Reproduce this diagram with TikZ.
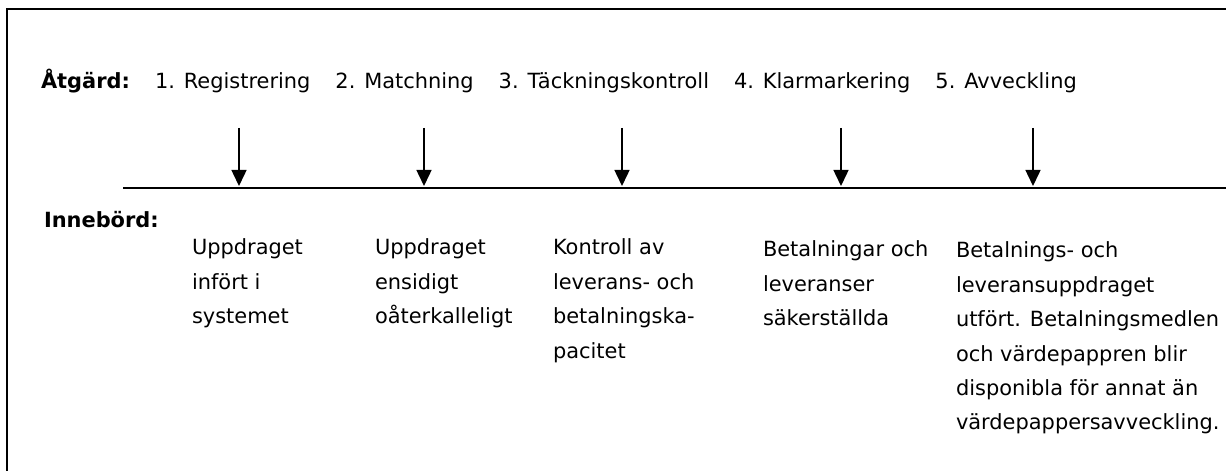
\documentclass[tikz,border=0pt]{standalone}
\usepackage{fontspec}
\setmainfont{DejaVu Sans}
\usetikzlibrary{positioning,arrows.meta}
\tikzset{%
  >={Triangle[length=16bp,width=15bp]}, % filled arrow heads
  inner sep=0pt,%
  outer sep=0pt,%
  step label/.style={anchor=base west,font=\fontsize{21}{34.5}\selectfont},%
  head label/.style={anchor=base west,font=\fontsize{21}{34.5}\selectfont\bfseries},%
  meaning/.style={anchor=north west,align=left,font=\fontsize{21}{34.5}\selectfont},%
  step arrow/.style={->,line width=1.5bp}%
}

\begin{document}
\begin{tikzpicture}[x=1bp,y=-1bp] % settlement steps
\useasboundingbox (0,0) rectangle (1226,471);
\draw[line width=1.5bp] (7,471) -- (7,9) -- (1226,9); % frame

% the steps
\node[head label] (atg) at (41,89) {Åtgärd:};
\node[step label] (s1) at (155,89) {1. Registrering};
\node[step label,base right=25bp of s1] (s2) {2. Matchning};
\node[step label,base right=25bp of s2] (s3) {3. Täckningskontroll};
\node[step label,base right=25bp of s3] (s4) {4. Klarmarkering};
\node[step label,base right=25bp of s4] (s5) {5. Avveckling};

% time line
\coordinate (tl0) at (123,188);
\coordinate (tl1) at (1226,188);
\draw[line width=2bp] (tl0)--(tl1);

\foreach \x [count=\i] in {239,424,622,841,1033} {
  \coordinate (a\i) at (\x,128);
  \coordinate (b\i) at (\x,186);
  \draw[step arrow] (a\i)--(b\i);
}

% what each step means (top of first line = baseline - 16)
\node[head label] (inn) at (44,228) {Innebörd:};
\node[meaning] (m1) at (192,239) {Uppdraget\\infört i\\systemet};
\node[meaning] (m2) at (375,239) {Uppdraget\\ensidigt\\oåterkalleligt};
\node[meaning] (m3) at (553,239) {Kontroll av\\leverans- och\\betalningska-\\pacitet};
\node[meaning] (m4) at (763,241) {Betalningar och\\leveranser\\säkerställda};
\node[meaning] (m5) at (956,242) {Betalnings- och\\leveransuppdraget\\utfört. Betalningsmedlen\\och värdepappren blir\\disponibla för annat än\\värdepappersavveckling.};

\end{tikzpicture}
\end{document}
